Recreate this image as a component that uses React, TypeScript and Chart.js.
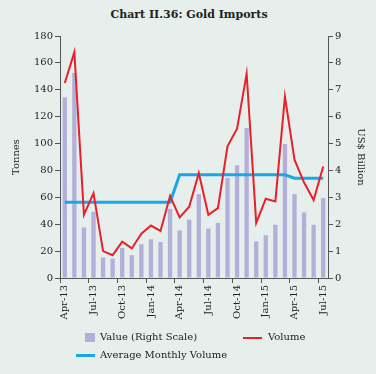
import React, { useEffect, useRef } from "react";
import { Chart, registerables } from "chart.js";

Chart.register(...registerables);

const months = [
  "Apr-13", "May-13", "Jun-13", "Jul-13", "Aug-13", "Sep-13", "Oct-13", "Nov-13", "Dec-13", "Jan-14", "Feb-14", "Mar-14",
  "Apr-14", "May-14", "Jun-14", "Jul-14", "Aug-14", "Sep-14", "Oct-14", "Nov-14", "Dec-14", "Jan-15", "Feb-15", "Mar-15",
  "Apr-15", "May-15", "Jun-15", "Jul-15",
];

const valueUSD = [
  6.72, 7.62, 1.88, 2.46, 0.76, 0.72, 1.12, 0.85, 1.26, 1.44, 1.34, 2.57,
  1.77, 2.17, 3.12, 1.84, 2.05, 3.72, 4.19, 5.58, 1.36, 1.59, 1.98, 4.98,
  3.12, 2.44, 1.98, 2.97,
];

const volumeTonnes = [
  145, 168, 47, 63, 20, 17, 27, 22, 33, 39, 35, 61,
  45, 53, 78, 47, 52, 98, 111, 152, 41, 59, 57, 135,
  88, 71, 58, 83,
];

const avgMonthlyVolume = [
  56.3, 56.3, 56.3, 56.3, 56.3, 56.3, 56.3, 56.3, 56.3, 56.3, 56.3, 56.3,
  76.8, 76.8, 76.8, 76.8, 76.8, 76.8, 76.8, 76.8, 76.8, 76.8, 76.8, 76.8,
  74.2, 74.2, 74.2, 74.2,
];

const FONT = "'DejaVu Serif', serif";
const BG = "#e6efeb";
const AXIS = "#555";
const TEXT = "#222";
const BAR = "#b2b0da";
const RED = "#e8202a";
const BLUE = "#1ba6e6";

export default function App() {
  const ref = useRef<HTMLCanvasElement | null>(null);

  useEffect(() => {
    if (!ref.current) return;
    const chart = new Chart(ref.current, {
      type: "bar",
      data: {
        labels: months,
        datasets: [
          {
            type: "line",
            label: "Volume",
            data: volumeTonnes,
            borderColor: RED,
            backgroundColor: RED,
            borderWidth: 2,
            pointRadius: 0,
            tension: 0,
            yAxisID: "y",
            order: 0,
          },
          {
            type: "line",
            label: "Average Monthly Volume",
            data: avgMonthlyVolume,
            borderColor: BLUE,
            backgroundColor: BLUE,
            borderWidth: 3,
            pointRadius: 0,
            tension: 0,
            yAxisID: "y",
            order: 1,
          },
          {
            type: "bar",
            label: "Value (Right Scale)",
            data: valueUSD,
            backgroundColor: BAR,
            borderWidth: 0,
            barPercentage: 0.45,
            categoryPercentage: 1,
            yAxisID: "y1",
            order: 2,
          },
        ],
      },
      options: {
        responsive: false,
        animation: false,
        layout: { padding: { top: 36, left: 0, right: 0, bottom: 0 } },
        plugins: {
          legend: { display: false },
          title: { display: false },
          tooltip: { enabled: false },
        },
        scales: {
          x: {
            offset: true,
            grid: {
              offset: true,
              drawOnChartArea: false,
              tickLength: 5,
              color: (ctx: any) => (ctx.index % 3 === 0 ? AXIS : "rgba(0,0,0,0)"),
            },
            border: { color: AXIS, width: 1 },
            ticks: {
              autoSkip: false,
              maxRotation: 90,
              minRotation: 90,
              padding: 2,
              color: TEXT,
              font: { family: FONT, size: 10 },
              callback: (_v: any, i: number) => (i % 3 === 0 ? months[i] : ""),
            },
            afterFit: (s: any) => {
              s.height = 96;
            },
          },
          y: {
            position: "left",
            min: 0,
            max: 180,
            grid: { drawOnChartArea: false, tickLength: 5, color: AXIS },
            border: { color: AXIS, width: 1 },
            ticks: { stepSize: 20, padding: 2, color: TEXT, font: { family: FONT, size: 10 } },
            title: {
              display: true,
              text: "Tonnes",
              color: TEXT,
              font: { family: FONT, size: 10 },
              padding: { top: 10, bottom: 0 },
            },
            afterFit: (s: any) => {
              s.width = 60;
            },
          },
          y1: {
            position: "right",
            min: 0,
            max: 9,
            grid: { drawOnChartArea: false, tickLength: 5, color: AXIS },
            border: { color: AXIS, width: 1 },
            ticks: { stepSize: 1, padding: 2, color: TEXT, font: { family: FONT, size: 10 } },
            title: {
              display: true,
              text: "US$ Billion",
              color: TEXT,
              font: { family: FONT, size: 10 },
              padding: { top: 9, bottom: 0 },
            },
            afterFit: (s: any) => {
              s.width = 48;
            },
          },
        },
      },
    });
    return () => chart.destroy();
  }, []);

  const legendText: React.CSSProperties = {
    position: "absolute",
    fontFamily: FONT,
    fontSize: 10,
    color: TEXT,
    lineHeight: "12px",
    whiteSpace: "nowrap",
  };

  return (
    <div style={{ position: "fixed", left: 0, top: 0, width: 376, height: 374, background: BG, overflow: "hidden" }}>
      <div
        style={{
          position: "absolute",
          left: 0,
          width: 378,
          top: 8,
          textAlign: "center",
          fontFamily: FONT,
          fontWeight: "bold",
          fontSize: 11,
          lineHeight: "14px",
          color: "#222",
        }}
      >
        Chart II.36: Gold Imports
      </div>
      <canvas ref={ref} width={376} height={374} style={{ position: "absolute", left: 0, top: 0, width: 376, height: 374 }} />
      <div style={{ position: "absolute", left: 85, top: 333, width: 10, height: 9, background: BAR }} />
      <div style={{ ...legendText, left: 100, top: 331 }}>Value (Right Scale)</div>
      <div style={{ position: "absolute", left: 243, top: 337, width: 19, height: 2, background: RED }} />
      <div style={{ ...legendText, left: 268, top: 331 }}>Volume</div>
      <div style={{ position: "absolute", left: 76, top: 354, width: 19, height: 2.5, background: BLUE }} />
      <div style={{ ...legendText, left: 100, top: 349 }}>Average Monthly Volume</div>
    </div>
  );
}
